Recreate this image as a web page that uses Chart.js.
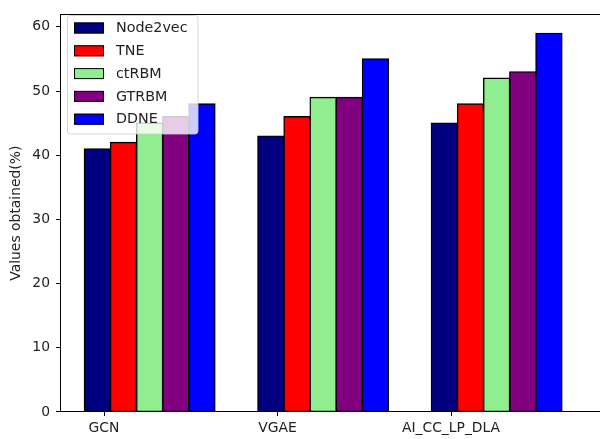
<!DOCTYPE html>
<html><head><meta charset="utf-8">
<script src="https://cdn.jsdelivr.net/npm/chart.js@4"></script>
<style>html,body{margin:0;padding:0;overflow:hidden;background:#fff}</style>
</head><body>
<canvas id="c" width="640" height="439" style="width:640px;height:439px;display:block"></canvas>
<script>
const categories = ['GCN', 'VGAE', 'AI_CC_LP_DLA'];
const seriesNames = ['Node2vec', 'TNE', 'ctRBM', 'GTRBM', 'DDNE'];
const node2vec = [41, 43, 45];
const tne = [42, 46, 48];
const ctrbm = [45, 49, 52];
const gtrbm = [46, 49, 53];
const ddne = [48, 55, 59];
const yTicks = [0, 10, 20, 30, 40, 50, 60];
const seriesValues = [node2vec, tne, ctrbm, gtrbm, ddne];
const colors = ['#000080', '#ff0000', '#90ee90', '#800080', '#0000ff'];

const tickOffset = -0.263;
const FONT = 'DejaVu Sans';

const datasets = seriesNames.map((name, k) => ({
  label: name,
  data: seriesValues[k].map((v, i) => ({ x: i, y: v })),
  backgroundColor: colors[k],
  borderColor: '#000',
  borderWidth: 1.4,
  borderSkipped: false,
  inflateAmount: 0.6,
  categoryPercentage: 0.7533,
  barPercentage: 1.0
}));

const framePlugin = {
  id: 'frame',
  afterDraw(chart) {
    const ctx = chart.ctx, a = chart.chartArea;
    ctx.save();
    ctx.strokeStyle = '#000';
    ctx.lineWidth = 1;
    ctx.beginPath();
    ctx.moveTo(a.left, Math.round(a.top) + 0.5);
    ctx.lineTo(a.right, Math.round(a.top) + 0.5);
    ctx.lineTo(a.right, a.bottom);
    ctx.stroke();

    // legend (matplotlib-style, upper left, semi-transparent)
    const lx = 67.5, ly = 15.5, lw = 130.5, lh = 118.5, r = 3;
    ctx.beginPath();
    ctx.moveTo(lx + r, ly);
    ctx.lineTo(lx + lw - r, ly);
    ctx.quadraticCurveTo(lx + lw, ly, lx + lw, ly + r);
    ctx.lineTo(lx + lw, ly + lh - r);
    ctx.quadraticCurveTo(lx + lw, ly + lh, lx + lw - r, ly + lh);
    ctx.lineTo(lx + r, ly + lh);
    ctx.quadraticCurveTo(lx, ly + lh, lx, ly + lh - r);
    ctx.lineTo(lx, ly + r);
    ctx.quadraticCurveTo(lx, ly, lx + r, ly);
    ctx.closePath();
    ctx.fillStyle = 'rgba(255,255,255,0.8)';
    ctx.fill();
    ctx.strokeStyle = 'rgba(204,204,204,0.8)';
    ctx.stroke();

    ctx.font = '14.3px "' + FONT + '"';
    ctx.textBaseline = 'middle';
    ctx.textAlign = 'left';
    chart.data.datasets.forEach((ds, k) => {
      const cy = 28 + k * 22.8;
      ctx.fillStyle = ds.backgroundColor;
      ctx.fillRect(74, cy - 5.5, 30, 11);
      ctx.strokeStyle = '#000';
      ctx.strokeRect(74.5, cy - 5, 29, 10);
      ctx.fillStyle = '#222';
      ctx.fillText(ds.label, 116, cy + 0.5);
    });
    ctx.restore();
  }
};

new Chart(document.getElementById('c'), {
  type: 'bar',
  data: { datasets },
  options: {
    responsive: false,
    animation: false,
    events: [],
    layout: { padding: { left: 0, right: 20, top: 8, bottom: 0 } },
    plugins: { legend: { display: false }, tooltip: { enabled: false } },
    scales: {
      x: {
        type: 'linear',
        offset: false,
        min: -0.5167,
        max: 2.7110,
        afterFit(scale) { scale.height = 27; },
        afterBuildTicks(scale) { scale.ticks = categories.map((c, i) => ({ value: i + tickOffset })); },
        grid: { offset: false, drawOnChartArea: false, drawTicks: true, tickLength: 4, color: '#000' },
        border: { display: true, color: '#000', width: 1 },
        ticks: {
          autoSkip: false, maxRotation: 0, padding: 4,
          color: '#222', font: { family: FONT, size: 13.9 },
          callback: (v, i) => categories[i]
        }
      },
      y: {
        min: 0,
        max: 61.95,
        afterFit(scale) { scale.width = 60; },
        afterBuildTicks(scale) { scale.ticks = yTicks.map(v => ({ value: v })); },
        grid: { drawOnChartArea: false, drawTicks: true, tickLength: 4, color: '#000' },
        border: { display: true, color: '#000', width: 1 },
        ticks: {
          padding: 6, color: '#222', font: { family: FONT, size: 13.9 },
          callback: v => String(v)
        },
        title: {
          display: true, text: 'Values obtained(%)', color: '#222',
          font: { family: FONT, size: 13.9 }, padding: { top: 8, bottom: 0 }
        }
      }
    }
  },
  plugins: [framePlugin]
});
</script>
</body></html>
